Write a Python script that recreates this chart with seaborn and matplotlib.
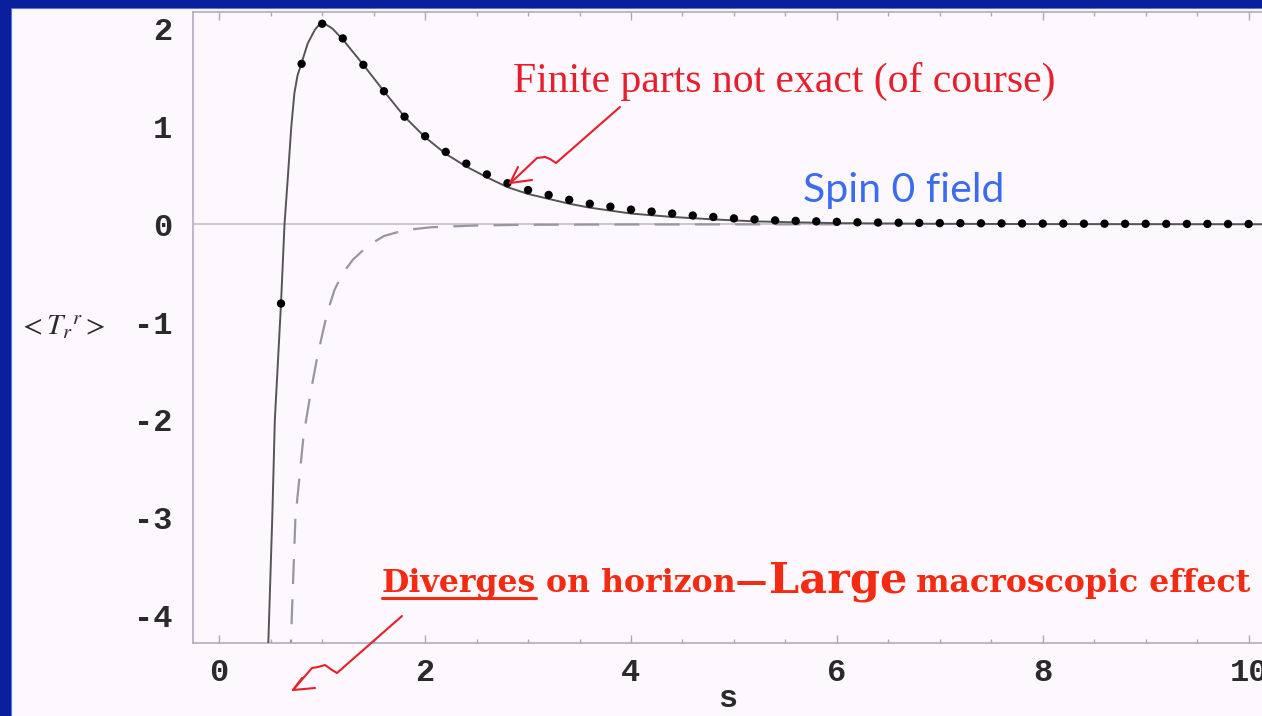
import matplotlib
matplotlib.use("Agg")
import pandas as pd
import seaborn as sns
import matplotlib.pyplot as plt
from matplotlib.lines import Line2D
from matplotlib.patches import Rectangle
from matplotlib.ticker import MultipleLocator

# ==================================================
# data
# ==================================================
# numerical points (black dots)
dot_s = [0.6, 0.8, 1.0, 1.2, 1.4, 1.6, 1.8, 2.0, 2.2, 2.4, 2.6, 2.8,
         3.0, 3.2, 3.4, 3.6, 3.8, 4.0, 4.2, 4.4, 4.6, 4.8, 5.0, 5.2,
         5.4, 5.6, 5.8, 6.0, 6.2, 6.4, 6.6, 6.8, 7.0, 7.2, 7.4, 7.6,
         7.8, 8.0, 8.2, 8.4, 8.6, 8.8, 9.0, 9.2, 9.4, 9.6, 9.8, 10.0]
dot_t = [-0.81, 1.64, 2.05, 1.90, 1.63, 1.36, 1.10, 0.90, 0.74, 0.62, 0.51, 0.42,
         0.35, 0.30, 0.25, 0.21, 0.18, 0.15, 0.13, 0.11, 0.09, 0.075, 0.06, 0.05,
         0.04, 0.035, 0.03, 0.025, 0.02, 0.018, 0.016, 0.014, 0.012, 0.011, 0.010, 0.009,
         0.008, 0.007, 0.007, 0.006, 0.006, 0.005, 0.005, 0.004, 0.004, 0.004, 0.003, 0.003]

# approximation (solid curve)
solid_s = [0.47, 0.485, 0.515, 0.54, 0.60, 0.634, 0.667, 0.70, 0.73, 0.76, 0.80,
           0.86, 0.93, 0.97, 1.0, 1.04, 1.1, 1.2, 1.4, 1.6, 1.8, 2.0, 2.2, 2.4,
           2.6, 2.8, 3.0, 3.2, 3.4, 3.6, 3.8, 4.0, 4.4, 4.8, 5.2, 5.6, 6.0,
           7.0, 8.0, 10.2]
solid_t = [-4.5, -4.0, -3.0, -2.0, -0.81, 0.0, 0.49, 1.0, 1.34, 1.52, 1.65,
           1.85, 1.99, 2.04, 2.05, 2.04, 2.0, 1.89, 1.63, 1.36, 1.10, 0.89, 0.72, 0.59,
           0.48, 0.38, 0.31, 0.26, 0.21, 0.17, 0.14, 0.11, 0.075, 0.05, 0.03, 0.02, 0.012,
           0.005, 0.002, 0.0]

# divergent part (dashed curve)
dash_s = [0.69, 0.705, 0.74, 0.82, 0.90, 0.95, 1.0, 1.05, 1.12, 1.2, 1.3,
          1.45, 1.6, 1.8, 2.06, 2.5, 3.0, 4.0, 5.0, 6.0]
dash_t = [-4.5, -4.0, -3.0, -2.15, -1.65, -1.37, -1.13, -0.90, -0.67, -0.50, -0.36,
          -0.215, -0.12, -0.06, -0.03, -0.012, -0.005, -0.002, -0.001, 0.0]

y_ticks = [-4, -3, -2, -1, 0, 1, 2]
y_tick_labels = ["-4", "-3", "-2", "-1", "0", "1", "2"]
x_ticks = [0, 2, 4, 6, 8, 10]
x_tick_labels = ["0", "2", "4", "6", "8", "10"]

# ==================================================
# style
# ==================================================
sns.set_theme(style="white")
plt.rcParams["font.family"] = ["DejaVu Sans"]
plt.rcParams["mathtext.fontset"] = "stix"
plt.rcParams["lines.scale_dashes"] = False

BG = "#FDF8FD"
AXIS_C = "#AAA6BB"
TICK_FONT = {"family": ["Liberation Mono", "DejaVu Sans Mono"], "weight": "bold", "size": 23}
RED1 = "#E81E2C"
RED2 = "#F42A12"
BLUE = "#3A6BF0"

W, H = 1262, 716


def fx(x):
    return x / W


def fy(y):
    return 1 - y / H


fig = plt.figure(figsize=(W / 100, H / 100), dpi=100, facecolor=BG)
ax = fig.add_axes([fx(193), fy(643), 1 - fx(193), fy(12) - fy(643)])
ax.set_facecolor(BG)

# zero line
ax.axhline(0, color="#C6C1D6", lw=1.3, zorder=1)

# ==================================================
# curves
# ==================================================
sns.lineplot(x=dash_s, y=dash_t, ax=ax, color="#98969E", lw=1.6,
             estimator=None, sort=False, zorder=2)
ax.lines[-1].set_dashes([18, 11])

sns.lineplot(x=solid_s, y=solid_t, ax=ax, color="#555555", lw=1.4,
             estimator=None, sort=False, zorder=3)

sns.scatterplot(x=dot_s, y=dot_t, ax=ax, color="black", s=36,
                edgecolor="none", zorder=5)

ax.set_xlim(-0.255, 10.13)
ax.set_ylim(-4.28, 2.17)

# ==================================================
# axes / ticks (Mathematica look)
# ==================================================
for side in ["left", "bottom", "top"]:
    ax.spines[side].set_color(AXIS_C)
    ax.spines[side].set_linewidth(1.1)
ax.spines["right"].set_visible(False)

ax.set_xticks(x_ticks)
ax.set_xticklabels(x_tick_labels, fontdict=TICK_FONT, color="#2A2A2A")
ax.set_yticks(y_ticks)
ax.set_yticklabels(y_tick_labels, fontdict=TICK_FONT, color="#2A2A2A")
ax.xaxis.set_minor_locator(MultipleLocator(0.5))
ax.yaxis.set_minor_locator(MultipleLocator(0.2))
ax.tick_params(axis="both", which="both", direction="in", color=AXIS_C, width=1.0)
ax.tick_params(axis="x", which="both", top=True, bottom=True)
ax.tick_params(axis="both", which="major", length=6)
ax.tick_params(axis="both", which="minor", length=3)
ax.tick_params(axis="x", which="major", pad=11)
ax.tick_params(axis="y", which="major", pad=15)

ax.set_xlabel("s", fontdict=TICK_FONT, color="#2A2A2A", va="center")
ax.xaxis.set_label_coords(0.5, -(699 - 643) / (643 - 12))
ax.set_ylabel(r"$<T_r{}^{r}>$", rotation=0, fontsize=21, color="#2A2A2A",
              ha="center", va="center")
ax.yaxis.set_label_coords(-(193 - 62) / (W - 193), 0.5)

# ==================================================
# slide frame (blue border)
# ==================================================
fig.patches.append(Rectangle((0, fy(7)), 1, 7 / H, transform=fig.transFigure,
                             color="#0A1F9C", zorder=10))
fig.patches.append(Rectangle((0, 0), 10 / W, 1, transform=fig.transFigure,
                             color="#0A1F9C", zorder=10))
fig.add_artist(Line2D([fx(10.5), fx(10.5)], [0, fy(7)], color="#6E8CE8", lw=0.8,
                      transform=fig.transFigure))
fig.add_artist(Line2D([fx(10.5), 1], [fy(7.5), fy(7.5)], color="#6E8CE8", lw=0.8,
                      transform=fig.transFigure))

# ==================================================
# annotations
# ==================================================
fig.text(fx(513), fy(92), "Finite parts not exact (of course)", color=RED1,
         fontsize=30, family=["Liberation Serif", "DejaVu Serif"], va="baseline")
fig.text(fx(803), fy(202), "Spin 0 field", color=BLUE, fontsize=29.5,
         family=["Lato", "DejaVu Sans"], va="baseline")

renderer = fig.canvas.get_renderer()
pieces = [("Diverges", 22.8, 10), ("on horizon\u2014", 22.8, 1), ("Large", 31, 9),
          ("macroscopic effect", 22.8, 0)]
x0 = 382
for i, (txt, size, gap) in enumerate(pieces):
    t = fig.text(fx(x0), fy(592), txt, color=RED2, fontsize=size, weight="bold",
                 family=["DejaVu Serif"], va="baseline")
    w = t.get_window_extent(renderer).width
    if i == 0:
        fig.add_artist(Line2D([fx(x0), fx(x0 + w)], [fy(598), fy(598)], color=RED2,
                              lw=2.2, transform=fig.transFigure))
    x0 = x0 + w + gap

arrow1 = [(620, 107), (556, 163), (550, 159), (545, 157), (537, 158), (517, 177), (510, 183)]
head1 = [(518, 167), (510, 183), (532, 180)]
arrow2 = [(402, 616), (337, 673), (332, 670), (325, 665), (318, 667), (312, 668), (293, 690)]
head2 = [(302, 678), (293, 690), (315, 688)]
for path in [arrow1, head1, arrow2, head2]:
    fig.add_artist(Line2D([fx(p[0]) for p in path], [fy(p[1]) for p in path],
                          color=RED1, lw=1.5, transform=fig.transFigure,
                          solid_joinstyle="round", solid_capstyle="round"))

fig.savefig("out.png", dpi=100, facecolor=BG)
